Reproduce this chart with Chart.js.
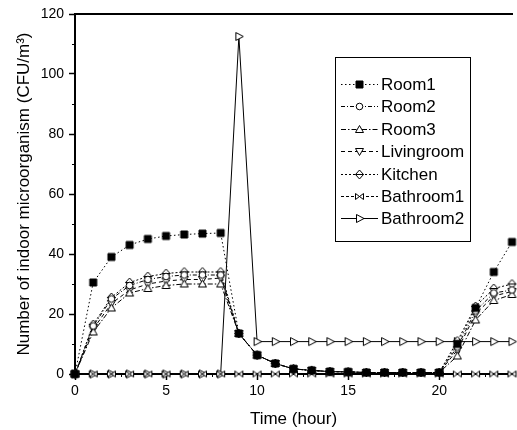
<!DOCTYPE html>
<html>
<head>
<meta charset="utf-8">
<script src="https://cdn.jsdelivr.net/npm/chart.js@4.4.0/dist/chart.umd.min.js"></script>
<style>
  html, body { margin: 0; padding: 0; background: #fff; }
  #wrap { width: 517px; height: 430px; }
</style>
</head>
<body>
<div id="wrap"><canvas id="chart" width="517" height="430"></canvas></div>
<script>
// Indoor microorganism concentration over a day, one series per room

const hours = [0, 1, 2, 3, 4, 5, 6, 7, 8, 9, 10, 11, 12, 13, 14, 15, 16, 17, 18, 19, 20, 21, 22, 23, 24];

const room1      = [0, 30.5, 39, 43, 45, 46, 46.5, 46.8, 47, 13.5, 6.3, 3.5, 1.7, 1.2, 0.8, 0.7, 0.5, 0.5, 0.5, 0.5, 0.5, 10, 22, 34, 44];
const room2      = [0, 16, 25, 29.5, 31.5, 32.5, 33, 33, 33, 13.5, 6.3, 3.5, 1.7, 1.2, 0.8, 0.7, 0.5, 0.5, 0.5, 0.5, 0.5, 9, 21, 27, 28];
const room3      = [0, 14, 22, 27, 28.5, 29.5, 30, 30, 30, 13.5, 6.3, 3.5, 1.7, 1.2, 0.8, 0.7, 0.5, 0.5, 0.5, 0.5, 0.5, 6, 18, 24.5, 26.5];
const livingroom = [0, 15, 23.5, 28, 30, 31, 31.5, 31.5, 32, 13.5, 6.3, 3.5, 1.7, 1.2, 0.8, 0.7, 0.5, 0.5, 0.5, 0.5, 0.5, 8, 20, 26, 27.5];
const kitchen    = [0, 16.5, 25.5, 30.5, 32.5, 33.5, 34, 34, 34, 13.5, 6.3, 3.5, 1.7, 1.2, 0.8, 0.7, 0.5, 0.5, 0.5, 0.5, 0.5, 11, 22.5, 28.5, 30];
const bathroom1  = [0, 0, 0, 0, 0, 0, 0, 0, 0, 0, 0, 0, 0, 0, 0, 0, 0, 0, 0, 0, 0, 0, 0, 0, 0];
const bathroom2  = [0, 0, 0, 0, 0, 0, 0, 0, 0, 112.5, 10.8, 10.8, 10.8, 10.8, 10.8, 10.8, 10.8, 10.8, 10.8, 10.8, 10.8, 10.8, 10.8, 10.8, 10.8];

const seriesNames = ['Room1', 'Room2', 'Room3', 'Livingroom', 'Kitchen', 'Bathroom1', 'Bathroom2'];
const seriesValues = [room1, room2, room3, livingroom, kitchen, bathroom1, bathroom2];

const xTicks = [0, 5, 10, 15, 20];
const xMinorTicks = [2.5, 7.5, 12.5, 17.5, 22.5];
const yTicks = [0, 20, 40, 60, 80, 100, 120];
const yMinorTicks = [10, 30, 50, 70, 90, 110];

const FONT = 'Arial, "Liberation Sans", sans-serif';

// small marker images, drawn once and reused by points and legend
function marker(kind) {
    const c = document.createElement('canvas');
    c.width = 11;
    c.height = 11;
    const g = c.getContext('2d');
    g.translate(5.5, 5.5);
    g.lineWidth = 1;
    g.strokeStyle = '#000';
    g.fillStyle = '#fff';
    g.beginPath();
    switch (kind) {
        case 'square':
            g.fillStyle = '#000';
            g.rect(-3.5, -3.5, 7, 7);
            break;
        case 'circle':
            g.arc(0, 0, 3.3, 0, Math.PI * 2);
            break;
        case 'up':
            g.moveTo(0, -4); g.lineTo(4, 3); g.lineTo(-4, 3); g.closePath();
            break;
        case 'down':
            g.moveTo(0, 4); g.lineTo(4, -3); g.lineTo(-4, -3); g.closePath();
            break;
        case 'diamond':
            g.moveTo(0, -4.5); g.lineTo(4, 0); g.lineTo(0, 4.5); g.lineTo(-4, 0); g.closePath();
            break;
        case 'bowtie':
            g.moveTo(-4, -3); g.lineTo(4, 3); g.lineTo(4, -3); g.lineTo(-4, 3); g.closePath();
            break;
        case 'right':
            g.moveTo(4.5, 0); g.lineTo(-3, -4); g.lineTo(-3, 4); g.closePath();
            break;
    }
    g.fill();
    g.stroke();
    if (kind === 'diamond') {
        g.beginPath();
        g.moveTo(-4, 0); g.lineTo(4, 0);
        g.stroke();
    }
    return c;
}

const markerKinds = ['square', 'circle', 'up', 'down', 'diamond', 'bowtie', 'right'];
const dashes = [[1.5, 2.5], [4, 2, 1, 2], [5, 2, 1.5, 2], [4, 3], [2, 2], [3, 2], []];

const datasets = seriesNames.map((name, i) => ({
    label: name,
    data: hours.map((h, j) => ({ x: h, y: seriesValues[i][j] })),
    borderColor: '#000',
    borderWidth: 1,
    borderDash: dashes[i],
    pointStyle: marker(markerKinds[i]),
    pointRadius: 4,
    tension: 0,
    fill: false,
    clip: false
}));

// top frame line, minor ticks and the boxed legend inside the plot
const framePlugin = {
    id: 'frame',
    afterDraw(chart) {
        const ctx = chart.ctx;
        const area = chart.chartArea;
        const xs = chart.scales.x;
        const ys = chart.scales.y;
        ctx.save();
        ctx.strokeStyle = '#000';

        ctx.lineWidth = 2;
        ctx.beginPath();
        ctx.moveTo(area.left - 1, area.top);
        ctx.lineTo(area.right + 1, area.top);
        ctx.stroke();

        ctx.lineWidth = 1;
        ctx.beginPath();
        xMinorTicks.forEach(v => {
            const px = Math.round(xs.getPixelForValue(v)) + 0.5;
            ctx.moveTo(px, area.bottom);
            ctx.lineTo(px, area.bottom + 3);
        });
        yMinorTicks.forEach(v => {
            const py = Math.round(ys.getPixelForValue(v)) + 0.5;
            ctx.moveTo(area.left, py);
            ctx.lineTo(area.left - 3, py);
        });
        ctx.stroke();

        // legend
        ctx.lineWidth = 1;
        ctx.strokeRect(335.5, 57.5, 135, 184);
        ctx.font = '17px ' + FONT;
        ctx.fillStyle = '#000';
        ctx.textBaseline = 'middle';
        chart.data.datasets.forEach((ds, i) => {
            const y = Math.round(84 + i * 22.4) + 0.5;
            ctx.setLineDash(ds.borderDash);
            ctx.beginPath();
            ctx.moveTo(341, y);
            ctx.lineTo(378, y);
            ctx.stroke();
            ctx.setLineDash([]);
            const img = ds.pointStyle;
            ctx.drawImage(img, 359.5 - img.width / 2, y - img.height / 2);
            ctx.fillText(ds.label, 381, y + 1);
        });
        ctx.restore();
    }
};

new Chart(document.getElementById('chart'), {
    type: 'line',
    data: { datasets },
    options: {
        responsive: false,
        animation: false,
        layout: { padding: { top: 14, right: 1, left: 0, bottom: 0 } },
        plugins: {
            legend: { display: false },
            tooltip: { enabled: false }
        },
        scales: {
            x: {
                type: 'linear',
                min: 0,
                max: 24,
                afterBuildTicks: s => { s.ticks = xTicks.map(v => ({ value: v })); },
                afterFit: s => { s.height = 56; },
                grid: { drawOnChartArea: false, tickLength: 6, tickColor: '#000', tickWidth: 1.5 },
                border: { color: '#000', width: 2 },
                ticks: { color: '#000', font: { size: 14, family: FONT }, padding: 3, maxRotation: 0 },
                title: {
                    display: true,
                    text: 'Time (hour)',
                    color: '#000',
                    font: { size: 17, family: FONT },
                    padding: { top: 0, bottom: 0 }
                }
            },
            y: {
                min: 0,
                max: 120,
                afterBuildTicks: s => { s.ticks = yTicks.map(v => ({ value: v })); },
                afterFit: s => { s.width = 75; },
                grid: { drawOnChartArea: false, tickLength: 6, tickColor: '#000', tickWidth: 1.5 },
                border: { color: '#000', width: 2 },
                ticks: { color: '#000', font: { size: 14, family: FONT }, padding: 5 },
                title: {
                    display: true,
                    text: 'Number of indoor microorganism (CFU/m³)',
                    color: '#000',
                    font: { size: 17, family: FONT },
                    padding: { top: 14, bottom: 0 }
                }
            }
        }
    },
    plugins: [framePlugin]
});
</script>
</body>
</html>
